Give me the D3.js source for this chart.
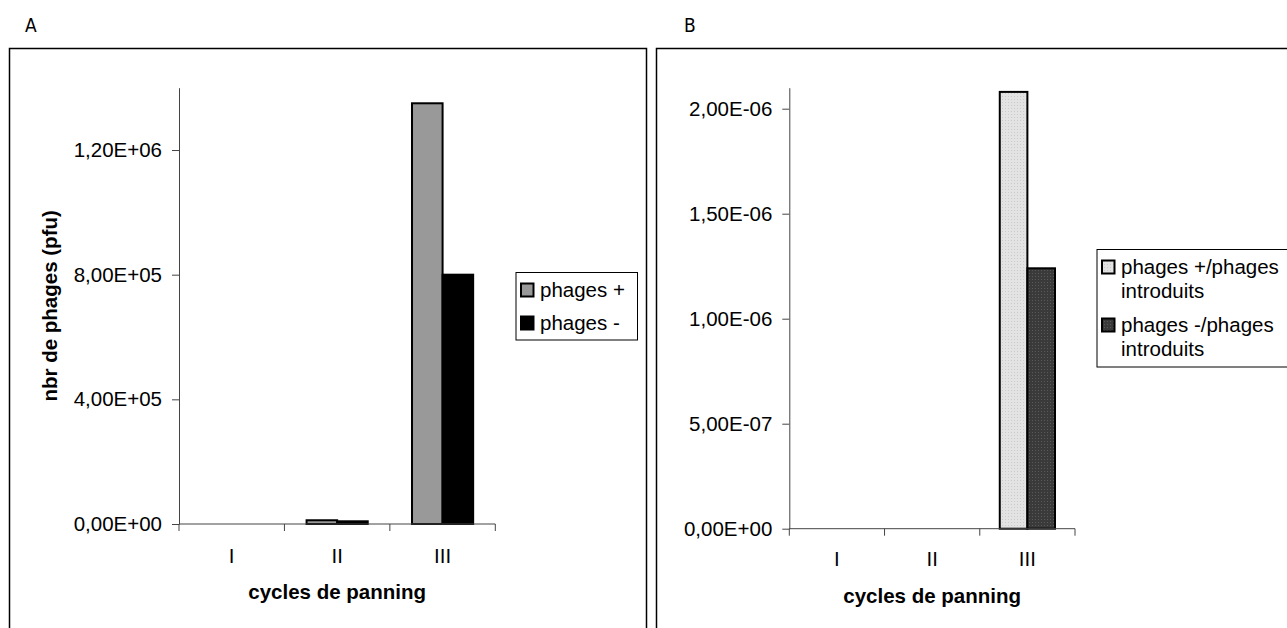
<!DOCTYPE html>
<html>
<head>
<meta charset="utf-8">
<script src="https://cdn.jsdelivr.net/npm/d3@7"></script>
<style>
  body { margin: 0; background: #fff; }
  svg text { font-family: "Liberation Sans", Arial, sans-serif; fill: #000; }
</style>
</head>
<body>
<svg id="chart" width="1287" height="628"></svg>
<script>
// data
let cycles = ["I", "II", "III"];
let seriesA = ["phages +", "phages -"];
let phagesPlus = [0, 12000, 1350000];
let phagesMinus = [0, 8700, 800000];
let seriesB = [["phages +/phages", "introduits"], ["phages -/phages", "introduits"]];
let ratioPlus = [0, 0, 2.08e-6];
let ratioMinus = [0, 0, 1.24e-6];
let ticksA = [0, 4e5, 8e5, 1.2e6];
let ticksB = [0, 5e-7, 1e-6, 1.5e-6, 2e-6];

let svg = d3.select('#chart');
let fontSize = 20.5;

// excel style number, 1,20E+06
function sci(v) {
    if (v === 0) return "0,00E+00";
    let exp = Math.floor(Math.log10(Math.abs(v)) + 1e-9);
    let mant = v / Math.pow(10, exp);
    let e = Math.abs(exp) < 10 ? "0" + Math.abs(exp) : "" + Math.abs(exp);
    return mant.toFixed(2).replace('.', ',') + 'E' + (exp < 0 ? '-' : '+') + e;
}

// textures for panel B bars
let defs = svg.append('defs');
function dotPattern(id, bg, dot) {
    let p = defs.append('pattern').attr('id', id)
        .attr('width', 3).attr('height', 3)
        .attr('patternUnits', 'userSpaceOnUse');
    p.append('rect').attr('width', 3).attr('height', 3).attr('fill', bg);
    p.append('rect').attr('width', 1).attr('height', 1).attr('fill', dot);
}
dotPattern('lightDots', '#e3e3e3', '#cacaca');
dotPattern('darkDots', '#3a3a3a', '#5a5a5a');

// frames and panel letters
svg.append('rect').attr('x', 9.5).attr('y', 48.5).attr('width', 637).attr('height', 640)
    .attr('fill', 'none').attr('stroke', '#000').attr('stroke-width', 1.5);
svg.append('rect').attr('x', 656.5).attr('y', 48.5).attr('width', 700).attr('height', 640)
    .attr('fill', 'none').attr('stroke', '#000').attr('stroke-width', 1.5);
svg.append('text').attr('x', 25).attr('y', 32).text('A')
    .style('font-family', '"Liberation Sans Narrow", "DejaVu Sans Condensed", sans-serif')
    .style('font-size', '19px');
svg.append('text').attr('x', 684).attr('y', 32).text('B')
    .style('font-family', '"Liberation Sans Narrow", "DejaVu Sans Condensed", sans-serif')
    .style('font-size', '19px');

function drawPanel(cfg) {
    let g = svg.append('g');
    let x0 = d3.scaleBand().domain(cycles).range([cfg.left, cfg.right]).padding(0);
    let groupW = x0.bandwidth() * 0.58;
    let x1 = d3.scaleBand().domain([0, 1]).range([0, groupW]).padding(0);
    let y = d3.scaleLinear().domain([0, cfg.max]).range([cfg.bottom, cfg.top]);

    // bars
    cfg.values.forEach(function (vals, s) {
        g.selectAll('.bar-' + s)
            .data(vals.map(function (v, i) { return { cat: cycles[i], v: v }; })
                .filter(function (d) { return d.v > 0; }))
            .enter().append('rect')
            .attr('x', function (d) { return x0(d.cat) + (x0.bandwidth() - groupW) / 2 + x1(s); })
            .attr('width', x1.bandwidth())
            .attr('y', function (d) { return y(d.v); })
            .attr('height', function (d) { return cfg.bottom - y(d.v); })
            .attr('fill', cfg.fills[s])
            .attr('stroke', '#000').attr('stroke-width', 2);
    });

    // y axis
    let yAxis = d3.axisLeft(y).tickValues(cfg.ticks).tickFormat(sci)
        .tickSize(7).tickSizeOuter(0).tickPadding(cfg.pad);
    let ya = g.append('g').attr('transform', 'translate(' + cfg.left + ',0)').call(yAxis);
    ya.select('.domain').attr('stroke', '#444');
    ya.selectAll('.tick line').attr('stroke', '#444');
    ya.selectAll('text').style('font-size', fontSize + 'px')
        .style('font-family', '"Liberation Sans", Arial, sans-serif').attr('fill', '#000');

    // x axis: line, ticks at band edges, labels at centres
    let xa = g.append('g');
    xa.append('line').attr('x1', cfg.left).attr('x2', cfg.right)
        .attr('y1', cfg.bottom).attr('y2', cfg.bottom).attr('stroke', '#444');
    let edges = cycles.map(function (c) { return x0(c); }).concat([cfg.right]);
    xa.selectAll('.edge').data(edges).enter().append('line')
        .attr('x1', function (d) { return d; }).attr('x2', function (d) { return d; })
        .attr('y1', cfg.bottom).attr('y2', cfg.bottom + 7).attr('stroke', '#444');
    xa.selectAll('.lab').data(cycles).enter().append('text')
        .attr('x', function (d) { return x0(d) + x0.bandwidth() / 2; })
        .attr('y', cfg.catY).attr('dy', '0.35em')
        .attr('text-anchor', 'middle').style('font-size', fontSize + 'px')
        .text(function (d) { return d; });

    g.append('text').attr('x', (cfg.left + cfg.right) / 2).attr('y', cfg.titleY)
        .attr('dy', '0.35em').attr('text-anchor', 'middle')
        .style('font-size', fontSize + 'px').style('font-weight', 'bold')
        .text('cycles de panning');

    if (cfg.yTitle) {
        g.append('text')
            .attr('transform', 'translate(' + cfg.yTitleX + ',' + (cfg.top + cfg.bottom) / 2 + ') rotate(-90)')
            .attr('dy', '0.35em').attr('text-anchor', 'middle')
            .style('font-size', fontSize + 'px').style('font-weight', 'bold')
            .text(cfg.yTitle);
    }

    // legend
    let lg = g.append('g');
    lg.append('rect').attr('x', cfg.legend.x).attr('y', cfg.legend.y)
        .attr('width', cfg.legend.w).attr('height', cfg.legend.h)
        .attr('fill', '#fff').attr('stroke', '#000').attr('stroke-width', 1);
    cfg.names.forEach(function (lines, s) {
        let cy = cfg.legend.rows[s];
        lg.append('rect').attr('x', cfg.legend.x + 5).attr('y', cy - 6.5)
            .attr('width', 12.5).attr('height', 13)
            .attr('fill', cfg.fills[s]).attr('stroke', '#000').attr('stroke-width', 2);
        [].concat(lines).forEach(function (line, k) {
            lg.append('text').attr('x', cfg.legend.x + 24).attr('y', cy + k * 24)
                .attr('dy', '0.35em').style('font-size', fontSize + 'px').text(line);
        });
    });
}

drawPanel({
    left: 179, right: 495.3, top: 87.7, bottom: 524, max: 1.4e6,
    ticks: ticksA, pad: 10,
    values: [phagesPlus, phagesMinus],
    fills: ['#999999', '#000000'],
    catY: 556, titleY: 592,
    yTitle: 'nbr de phages (pfu)', yTitleX: 50,
    names: seriesA,
    legend: { x: 516, y: 272.5, w: 121.5, h: 67.5, rows: [290, 323] }
});

drawPanel({
    left: 789.3, right: 1075, top: 87.7, bottom: 528.7, max: 2.1e-6,
    ticks: ticksB, pad: 10,
    values: [ratioPlus, ratioMinus],
    fills: ['url(#lightDots)', 'url(#darkDots)'],
    catY: 559, titleY: 596,
    yTitle: null,
    names: seriesB,
    legend: { x: 1097, y: 249.5, w: 220, h: 117.5, rows: [267, 325] }
});
</script>
</body>
</html>
